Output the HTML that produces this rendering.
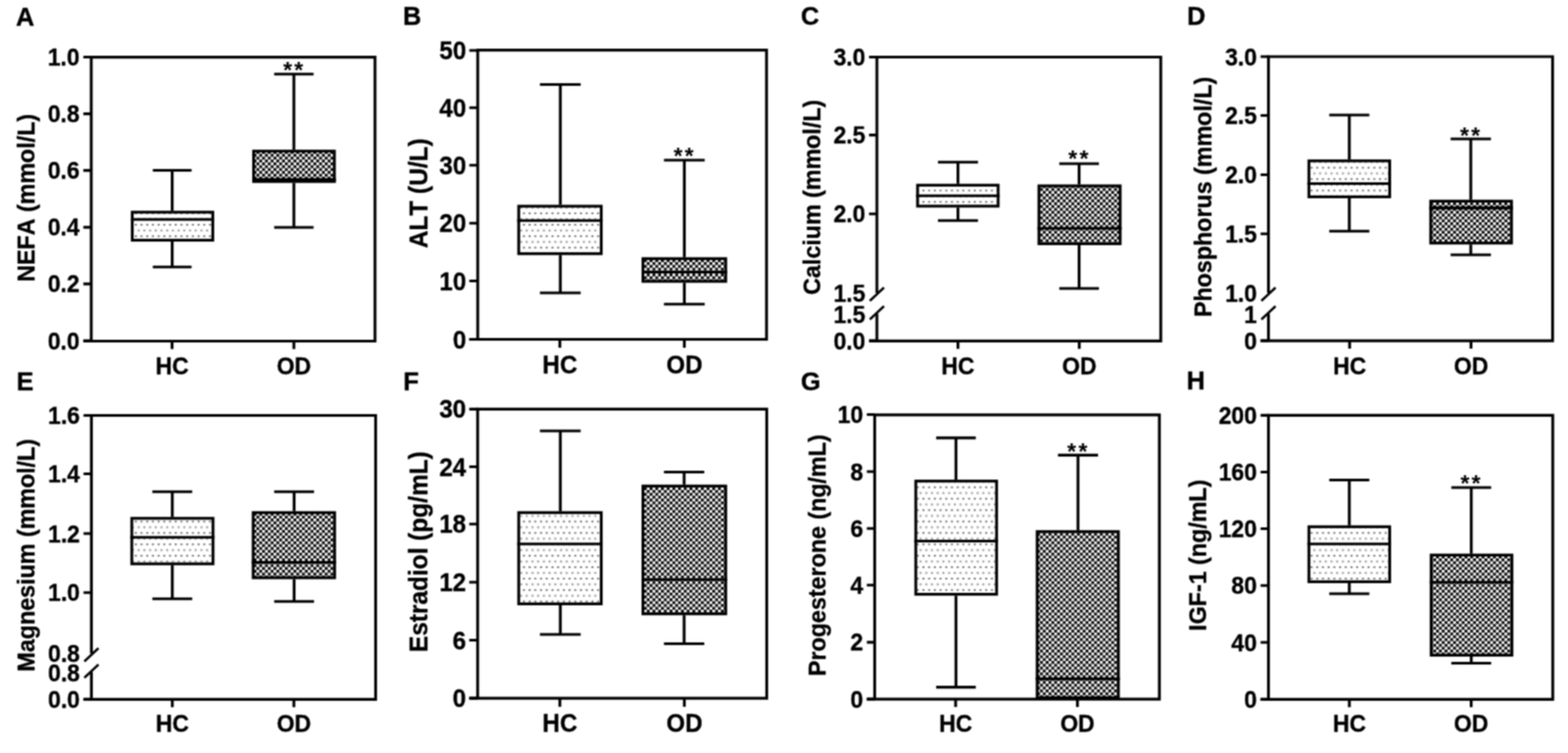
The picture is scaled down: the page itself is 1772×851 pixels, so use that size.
<!DOCTYPE html>
<html lang="en"><head><meta charset="utf-8"><title>Figure: serum parameters HC vs OD</title>
<style>
html,body{margin:0;padding:0;background:#fff;}
body{width:1772px;height:851px;overflow:hidden;}
svg{display:block;}
text{font-family:"Liberation Sans", sans-serif;font-weight:bold;fill:#000;font-kerning:none;}
.t,.y,.l{stroke:#000;stroke-width:0.35px;stroke-linejoin:round;} .t{font-size:26px;} .l{font-size:28.9px;} .s{font-size:26px;letter-spacing:2.5px;} .y{font-size:26px;}
.ax{stroke:#000;stroke-width:3.2;fill:none;stroke-linecap:butt;}
</style></head><body>
<svg width="1772" height="851" viewBox="0 0 1772 851" role="img" aria-label="Box plots of serum parameters in HC and OD groups">
<defs>
<filter id="soft" filterUnits="userSpaceOnUse" x="0" y="0" width="1772" height="851" color-interpolation-filters="sRGB"><feConvolveMatrix order="3" kernelMatrix="1 2 1 2 4 2 1 2 1" divisor="16" edgeMode="duplicate" preserveAlpha="true"/></filter>
<pattern id="dots" width="6.45" height="12.9" patternUnits="userSpaceOnUse"><rect width="6.45" height="12.9" fill="#fff"/><rect x="0.8" y="1.5" width="2.2" height="2" fill="#8a8a8a"/><rect x="4.22" y="8.05" width="1.8" height="1.7" fill="#333"/></pattern>
<pattern id="chk" width="6.44" height="6.44" patternUnits="userSpaceOnUse"><rect width="6.44" height="6.44" fill="#000"/><rect x="0" y="0" width="3.22" height="3.22" fill="#fff"/><rect x="3.22" y="3.22" width="3.22" height="3.22" fill="#fff"/></pattern>
</defs>
<g filter="url(#soft)">
<rect width="1772" height="851" fill="#fff"/>
<g id="panel-A">
<text class="l" transform="translate(18 28.55) scale(1 1.01)">A</text>
<text class="y" style="font-size:26.3px" text-anchor="middle" transform="translate(38.8 223.6) rotate(-90) scale(1 1.07)">NEFA (mmol/L)</text>
<path class="ax" d="M194.59 192.5V238.2M194.59 273.05V301.75M172.69 192.5H216.49M172.69 301.75H216.49"/>
<rect class="ax" x="149.47" y="239.8" width="91.01" height="31.65" style="fill:url(#dots)"/>
<path class="ax" style="stroke-width:3.2" d="M147.87 248H242.07"/>
<path class="ax" d="M332.12 83.75V169.2M332.12 206.7V257M309.85 83.75H354.4M309.85 257H354.4"/>
<rect class="ax" x="286.62" y="170.8" width="91.26" height="34.3" style="fill:url(#chk)"/>
<path class="ax" style="stroke-width:4.5" d="M285.02 203.6H379.48"/>
<text class="s" text-anchor="middle" x="332.52" y="88.25">**</text>
<path class="ax" d="M94.2 385.5H423.8V64.6H103.1V385.5"/>
<text class="t" text-anchor="end" transform="translate(90 74.05) scale(1 1.07)">1.0</text>
<text class="t" text-anchor="end" transform="translate(90 138.15) scale(1 1.07)">0.8</text>
<text class="t" text-anchor="end" transform="translate(90 202.25) scale(1 1.07)">0.6</text>
<text class="t" text-anchor="end" transform="translate(90 266.35) scale(1 1.07)">0.4</text>
<text class="t" text-anchor="end" transform="translate(90 330.45) scale(1 1.07)">0.2</text>
<text class="t" text-anchor="end" transform="translate(90 394.55) scale(1 1.07)">0.0</text>
<path class="ax" d="M94.2 64.5H103.1M94.2 128.6H103.1M94.2 192.7H103.1M94.2 256.8H103.1M94.2 320.9H103.1M94.2 385H103.1M194.47 385.5V394.4M332.12 385.5V394.4"/>
<text class="t" text-anchor="middle" transform="translate(194.47 423.2) scale(1 1.07)">HC</text>
<text class="t" text-anchor="middle" transform="translate(332.12 423.2) scale(1 1.07)">OD</text>
</g>
<g id="panel-B">
<text class="l" transform="translate(455.25 27.55) scale(1 1.01)">B</text>
<text class="y" style="font-size:27.62px" text-anchor="middle" transform="translate(483.3 218.5) rotate(-90) scale(1 1.07)">ALT (U/L)</text>
<path class="ax" d="M633.21 95.5V231.45M633.21 288.3V331M610.19 95.5H656.24M610.19 331H656.24"/>
<rect class="ax" x="586.21" y="233.05" width="93.26" height="53.65" style="fill:url(#dots)"/>
<path class="ax" style="stroke-width:3.2" d="M584.61 249.25H681.07"/>
<path class="ax" d="M773.37 181V290.7M773.37 319.55V343.75M750.35 181H796.4M750.35 343.75H796.4"/>
<rect class="ax" x="726.62" y="292.3" width="93.51" height="25.65" style="fill:url(#chk)"/>
<path class="ax" style="stroke-width:3.2" d="M725.02 307.5H821.73"/>
<text class="s" text-anchor="middle" x="773.77" y="184.5">**</text>
<path class="ax" d="M530.4 383.5H866.25V56.6H539.9V383.5"/>
<text class="t" style="font-size:27.3px" text-anchor="end" transform="translate(526.9 67.03) scale(1 1.07)">50</text>
<text class="t" style="font-size:27.3px" text-anchor="end" transform="translate(526.9 131.78) scale(1 1.07)">40</text>
<text class="t" style="font-size:27.3px" text-anchor="end" transform="translate(526.9 196.78) scale(1 1.07)">30</text>
<text class="t" style="font-size:27.3px" text-anchor="end" transform="translate(526.9 262.28) scale(1 1.07)">20</text>
<text class="t" style="font-size:27.3px" text-anchor="end" transform="translate(526.9 327.53) scale(1 1.07)">10</text>
<text class="t" style="font-size:27.3px" text-anchor="end" transform="translate(526.9 393.53) scale(1 1.07)">0</text>
<path class="ax" d="M530.4 57H539.9M530.4 121.75H539.9M530.4 186.75H539.9M530.4 252.25H539.9M530.4 317.5H539.9M530.4 383.5H539.9M632.71 383.5V393M773.37 383.5V393"/>
<text class="t" style="font-size:27.3px" text-anchor="middle" transform="translate(632.71 421.8) scale(1 1.07)">HC</text>
<text class="t" style="font-size:27.3px" text-anchor="middle" transform="translate(773.37 421.8) scale(1 1.07)">OD</text>
</g>
<g id="panel-C">
<text class="l" transform="translate(905 28.3) scale(1 1.01)">C</text>
<text class="y" style="font-size:26.3px" text-anchor="middle" transform="translate(926.8 223) rotate(-90) scale(1 1.07)">Calcium (mmol/L)</text>
<path class="ax" d="M1082.6 183.25V207.7M1082.6 234.55V249.25M1059.95 183.25H1105.25M1059.95 249.25H1105.25"/>
<rect class="ax" x="1036.97" y="209.3" width="91.01" height="23.65" style="fill:url(#dots)"/>
<path class="ax" style="stroke-width:3.2" d="M1035.37 221.25H1129.57"/>
<path class="ax" d="M1219.5 185V208.45M1219.5 277.05V326M1197.1 185H1241.9M1197.1 326H1241.9"/>
<rect class="ax" x="1174.12" y="210.05" width="91.76" height="65.4" style="fill:url(#chk)"/>
<path class="ax" style="stroke-width:3.2" d="M1172.52 258H1267.48"/>
<text class="s" text-anchor="middle" x="1219.9" y="188.3">**</text>
<path class="ax" d="M991 331V64.5H1311.8V385.4H982.1M991 385.4V354.5"/>
<path class="ax" style="stroke-width:2.7" d="M983 340L999 325"/>
<path class="ax" style="stroke-width:2.7" d="M983 361L999 346"/>
<text class="t" text-anchor="end" transform="translate(978 74.05) scale(1 1.07)">3.0</text>
<text class="t" text-anchor="end" transform="translate(978 162.15) scale(1 1.07)">2.5</text>
<text class="t" text-anchor="end" transform="translate(978 251.3) scale(1 1.07)">2.0</text>
<text class="t" text-anchor="end" transform="translate(978 340.55) scale(1 1.07)">1.5</text>
<text class="t" text-anchor="end" transform="translate(978 365.05) scale(1 1.07)">1.5</text>
<text class="t" text-anchor="end" transform="translate(978 394.55) scale(1 1.07)">0.0</text>
<path class="ax" d="M982.1 64.5H991M982.1 152.6H991M982.1 241.75H991M982.1 385H991M1082.6 385.4V394.3M1219.7 385.4V394.3"/>
<text class="t" text-anchor="middle" transform="translate(1082.6 423.1) scale(1 1.07)">HC</text>
<text class="t" text-anchor="middle" transform="translate(1219.7 423.1) scale(1 1.07)">OD</text>
</g>
<g id="panel-D">
<text class="l" transform="translate(1341.5 28.3) scale(1 1.01)">D</text>
<text class="y" style="font-size:26.3px" text-anchor="middle" transform="translate(1369.3 222.5) rotate(-90) scale(1 1.07)">Phosphorus (mmol/L)</text>
<path class="ax" d="M1524.85 130V180.2M1524.85 224.05V261.25M1502.2 130H1547.5M1502.2 261.25H1547.5"/>
<rect class="ax" x="1479.22" y="181.8" width="91.26" height="40.65" style="fill:url(#dots)"/>
<path class="ax" style="stroke-width:3.2" d="M1477.62 207.5H1572.07"/>
<path class="ax" d="M1662.13 157V225.7M1662.13 276.3V288M1639.35 157H1684.9M1639.35 288H1684.9"/>
<rect class="ax" x="1616.87" y="227.3" width="91.26" height="47.4" style="fill:url(#chk)"/>
<path class="ax" style="stroke-width:3.5" d="M1615.27 235H1709.73"/>
<text class="s" text-anchor="middle" x="1662.53" y="161.5">**</text>
<path class="ax" d="M1433.5 331V64H1754.6V385.1H1424.6M1433.5 385.1V354.5"/>
<path class="ax" style="stroke-width:2.7" d="M1425.5 340L1441.5 325"/>
<path class="ax" style="stroke-width:2.7" d="M1425.5 361L1441.5 346"/>
<text class="t" text-anchor="end" transform="translate(1420.5 73.55) scale(1 1.07)">3.0</text>
<text class="t" text-anchor="end" transform="translate(1420.5 140.05) scale(1 1.07)">2.5</text>
<text class="t" text-anchor="end" transform="translate(1420.5 207.05) scale(1 1.07)">2.0</text>
<text class="t" text-anchor="end" transform="translate(1420.5 273.8) scale(1 1.07)">1.5</text>
<text class="t" text-anchor="end" transform="translate(1420.5 341.05) scale(1 1.07)">1.0</text>
<text class="t" text-anchor="end" transform="translate(1420.5 365.05) scale(1 1.07)">1</text>
<text class="t" text-anchor="end" transform="translate(1420.5 394.55) scale(1 1.07)">0</text>
<path class="ax" d="M1424.6 64H1433.5M1424.6 130.5H1433.5M1424.6 197.5H1433.5M1424.6 264.25H1433.5M1424.6 385H1433.5M1525.2 385.1V394M1662.4 385.1V394"/>
<text class="t" text-anchor="middle" transform="translate(1525.2 422.8) scale(1 1.07)">HC</text>
<text class="t" text-anchor="middle" transform="translate(1662.4 422.8) scale(1 1.07)">OD</text>
</g>
<g id="panel-E">
<text class="l" transform="translate(18.8 441.3) scale(1 1.01)">E</text>
<text class="y" style="font-size:26.3px" text-anchor="middle" transform="translate(39 627.5) rotate(-90) scale(1 1.07)">Magnesium (mmol/L)</text>
<path class="ax" d="M194.72 555.75V584.2M194.72 638.8V676.75M172.19 555.75H217.25M172.19 676.75H217.25"/>
<rect class="ax" x="148.97" y="585.8" width="91.76" height="51.4" style="fill:url(#dots)"/>
<path class="ax" style="stroke-width:3.2" d="M147.37 607.25H242.32"/>
<path class="ax" d="M332.38 555.75V577.7M332.38 654.55V679.75M309.85 555.75H354.9M309.85 679.75H354.9"/>
<rect class="ax" x="286.12" y="579.3" width="92.01" height="73.65" style="fill:url(#chk)"/>
<path class="ax" style="stroke-width:3.2" d="M284.52 635.5H379.73"/>
<path class="ax" d="M103.3 738.5V469.5H424.5V790.3H94.4M103.3 790.3V759.5"/>
<path class="ax" style="stroke-width:2.7" d="M95.3 747.5L111.3 732.5"/>
<path class="ax" style="stroke-width:2.7" d="M95.3 766L111.3 751"/>
<text class="t" text-anchor="end" transform="translate(90.3 479.05) scale(1 1.07)">1.6</text>
<text class="t" text-anchor="end" transform="translate(90.3 545.05) scale(1 1.07)">1.4</text>
<text class="t" text-anchor="end" transform="translate(90.3 612.55) scale(1 1.07)">1.2</text>
<text class="t" text-anchor="end" transform="translate(90.3 679.3) scale(1 1.07)">1.0</text>
<text class="t" text-anchor="end" transform="translate(90.3 747.55) scale(1 1.07)">0.8</text>
<text class="t" text-anchor="end" transform="translate(90.3 770.05) scale(1 1.07)">0.8</text>
<text class="t" text-anchor="end" transform="translate(90.3 799.85) scale(1 1.07)">0.0</text>
<path class="ax" d="M94.4 469.5H103.3M94.4 535.5H103.3M94.4 603H103.3M94.4 669.75H103.3M94.4 790.3H103.3M194.72 790.3V799.2M332.12 790.3V799.2"/>
<text class="t" text-anchor="middle" transform="translate(194.72 827.4) scale(1 1.07)">HC</text>
<text class="t" text-anchor="middle" transform="translate(332.12 827.4) scale(1 1.07)">OD</text>
</g>
<g id="panel-F">
<text class="l" transform="translate(455.8 440.8) scale(1 1.01)">F</text>
<text class="y" style="font-size:27.62px" text-anchor="middle" transform="translate(483.3 623.5) rotate(-90) scale(1 1.07)">Estradiol (pg/mL)</text>
<path class="ax" d="M633.21 487V577.7M633.21 684.05V717M610.19 487H656.24M610.19 717H656.24"/>
<rect class="ax" x="586.21" y="579.3" width="93.26" height="103.15" style="fill:url(#dots)"/>
<path class="ax" style="stroke-width:3.2" d="M584.61 614.75H681.07"/>
<path class="ax" d="M773.12 533.5V547.7M773.12 695.3V727.5M750.35 533.5H795.9M750.35 727.5H795.9"/>
<rect class="ax" x="726.62" y="549.3" width="93.51" height="144.4" style="fill:url(#chk)"/>
<path class="ax" style="stroke-width:3.2" d="M725.02 655H821.73"/>
<path class="ax" d="M530.3 789.2H866.5V462.4H539.8V789.2"/>
<text class="t" style="font-size:27.3px" text-anchor="end" transform="translate(526.8 472.43) scale(1 1.07)">30</text>
<text class="t" style="font-size:27.3px" text-anchor="end" transform="translate(526.8 537.53) scale(1 1.07)">24</text>
<text class="t" style="font-size:27.3px" text-anchor="end" transform="translate(526.8 602.28) scale(1 1.07)">18</text>
<text class="t" style="font-size:27.3px" text-anchor="end" transform="translate(526.8 668.03) scale(1 1.07)">12</text>
<text class="t" style="font-size:27.3px" text-anchor="end" transform="translate(526.8 733.53) scale(1 1.07)">6</text>
<text class="t" style="font-size:27.3px" text-anchor="end" transform="translate(526.8 799.23) scale(1 1.07)">0</text>
<path class="ax" d="M530.3 462.4H539.8M530.3 527.5H539.8M530.3 592.25H539.8M530.3 658H539.8M530.3 723.5H539.8M530.3 789.2H539.8M632.71 789.2V798.7M773.37 789.2V798.7"/>
<text class="t" style="font-size:27.3px" text-anchor="middle" transform="translate(632.71 826.8) scale(1 1.07)">HC</text>
<text class="t" style="font-size:27.3px" text-anchor="middle" transform="translate(773.37 826.8) scale(1 1.07)">OD</text>
</g>
<g id="panel-G">
<text class="l" transform="translate(905 441.3) scale(1 1.01)">G</text>
<text class="y" style="font-size:26.3px" text-anchor="middle" transform="translate(932.6 627.5) rotate(-90) scale(1 1.07)">Progesterone (ng/mL)</text>
<path class="ax" d="M1080.34 494.8V542.1M1080.34 673.2V776.6M1057.94 494.8H1102.74M1057.94 776.6H1102.74"/>
<rect class="ax" x="1034.97" y="543.7" width="91.26" height="127.9" style="fill:url(#dots)"/>
<path class="ax" style="stroke-width:3.2" d="M1033.37 611.5H1127.82"/>
<path class="ax" d="M1218.25 514.3V599.2M1218.25 790.1V789M1195.6 514.3H1240.9"/>
<rect class="ax" x="1172.12" y="600.8" width="91.76" height="187.7" style="fill:url(#chk)"/>
<path class="ax" style="stroke-width:3.2" d="M1170.52 767.2H1265.48"/>
<text class="s" text-anchor="middle" x="1218.65" y="518.8">**</text>
<path class="ax" d="M979.6 790.1H1310.2V468.8H988.5V790.1"/>
<text class="t" text-anchor="end" transform="translate(975.5 478.05) scale(1 1.07)">10</text>
<text class="t" text-anchor="end" transform="translate(975.5 542.55) scale(1 1.07)">8</text>
<text class="t" text-anchor="end" transform="translate(975.5 606.8) scale(1 1.07)">6</text>
<text class="t" text-anchor="end" transform="translate(975.5 670.8) scale(1 1.07)">4</text>
<text class="t" text-anchor="end" transform="translate(975.5 735.35) scale(1 1.07)">2</text>
<text class="t" text-anchor="end" transform="translate(975.5 799.65) scale(1 1.07)">0</text>
<path class="ax" d="M979.6 468.5H988.5M979.6 533H988.5M979.6 597.25H988.5M979.6 661.25H988.5M979.6 725.8H988.5M979.6 790.1H988.5M1079.97 790.1V799M1217.62 790.1V799"/>
<text class="t" text-anchor="middle" transform="translate(1079.97 827.4) scale(1 1.07)">HC</text>
<text class="t" text-anchor="middle" transform="translate(1217.62 827.4) scale(1 1.07)">OD</text>
</g>
<g id="panel-H">
<text class="l" transform="translate(1341 440.3) scale(1 1.01)">H</text>
<text class="y" style="font-size:26.3px" text-anchor="middle" transform="translate(1363.3 627.5) rotate(-90) scale(1 1.07)">IGF-1 (ng/mL)</text>
<path class="ax" d="M1524.85 542.5V593.7M1524.85 659.05V671M1502.2 542.5H1547.5M1502.2 671H1547.5"/>
<rect class="ax" x="1479.22" y="595.3" width="91.26" height="62.15" style="fill:url(#dots)"/>
<path class="ax" style="stroke-width:3.2" d="M1477.62 614.75H1572.07"/>
<path class="ax" d="M1662.68 551V625.7M1662.68 742.05V749.5M1640.15 551H1685.2M1640.15 749.5H1685.2"/>
<rect class="ax" x="1617.37" y="627.3" width="91.26" height="113.15" style="fill:url(#chk)"/>
<path class="ax" style="stroke-width:3.2" d="M1615.77 658H1710.23"/>
<text class="s" text-anchor="middle" x="1663.08" y="555">**</text>
<path class="ax" d="M1424.6 790.3H1754.8V469.4H1433.5V790.3"/>
<text class="t" text-anchor="end" transform="translate(1420.5 478.95) scale(1 1.07)">200</text>
<text class="t" text-anchor="end" transform="translate(1420.5 543.05) scale(1 1.07)">160</text>
<text class="t" text-anchor="end" transform="translate(1420.5 607.05) scale(1 1.07)">120</text>
<text class="t" text-anchor="end" transform="translate(1420.5 671.3) scale(1 1.07)">80</text>
<text class="t" text-anchor="end" transform="translate(1420.5 735.55) scale(1 1.07)">40</text>
<text class="t" text-anchor="end" transform="translate(1420.5 799.85) scale(1 1.07)">0</text>
<path class="ax" d="M1424.6 469.4H1433.5M1424.6 533.5H1433.5M1424.6 597.5H1433.5M1424.6 661.75H1433.5M1424.6 726H1433.5M1424.6 790.3H1433.5M1524.9 790.3V799.2M1662.6 790.3V799.2"/>
<text class="t" text-anchor="middle" transform="translate(1524.9 827.4) scale(1 1.07)">HC</text>
<text class="t" text-anchor="middle" transform="translate(1662.6 827.4) scale(1 1.07)">OD</text>
</g>
</g>
</svg></body></html>
